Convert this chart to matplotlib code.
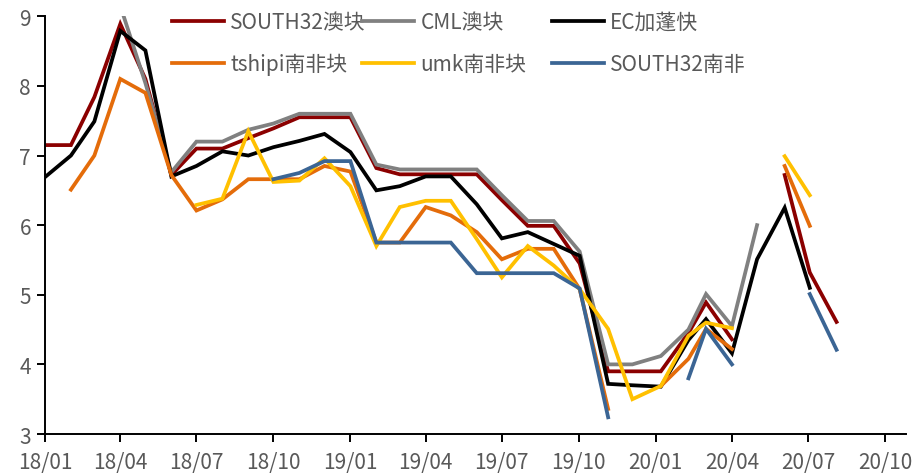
import numpy as np
import pandas as pd
import matplotlib
matplotlib.use('Agg')
import matplotlib.pyplot as plt
import matplotlib.dates as mdates

plt.rcParams['font.family'] = ['Noto Sans CJK SC', 'DejaVu Sans']
plt.rcParams['axes.unicode_minus'] = False

nan = np.nan

# ---- data ----
dates = pd.to_datetime([
    '2018-01-01', '2018-02-01', '2018-03-01', '2018-04-01', '2018-05-01', '2018-06-01',
    '2018-07-01', '2018-08-01', '2018-09-01', '2018-10-01', '2018-11-01', '2018-12-01',
    '2019-01-01', '2019-02-01', '2019-03-01', '2019-04-01', '2019-05-01', '2019-06-01',
    '2019-07-01', '2019-08-01', '2019-09-01', '2019-10-02', '2019-11-05', '2019-12-04',
    '2020-01-07', '2020-02-09', '2020-03-01', '2020-04-01', '2020-05-01', '2020-06-03',
    '2020-07-03', '2020-08-04',
])

south32_au = [7.15, 7.15, 7.84, 8.89, 8.1, 6.72, 7.1, 7.1, 7.25, 7.39, 7.55, 7.55,
              7.55, 6.82, 6.73, 6.73, 6.73, 6.73, 6.36, 5.99, 5.99, 5.45, 3.9, 3.9,
              3.9, 4.45, 4.89, 4.36, nan, 6.72, 5.32, 4.61]
cml_au = [nan, nan, nan, 9.15, 8.04, 6.76, 7.2, 7.2, 7.37, 7.46, 7.6, 7.6,
          7.6, 6.87, 6.8, 6.8, 6.8, 6.8, 6.43, 6.06, 6.06, 5.62, 4.0, 4.0,
          4.12, 4.5, 5.01, 4.55, 6.0, nan, nan, nan]
ec_gabon = [6.69, 7.0, 7.49, 8.79, 8.51, 6.7, 6.85, 7.06, 7.0, 7.12, 7.21, 7.31,
            7.05, 6.5, 6.56, 6.7, 6.7, 6.3, 5.81, 5.9, 5.73, 5.56, 3.72, 3.7,
            3.68, 4.35, 4.65, 4.16, 5.51, 6.25, 5.1, nan]
tshipi_sa = [nan, 6.51, 7.0, 8.1, 7.9, 6.72, 6.21, 6.37, 6.66, 6.66, 6.66, 6.85,
             6.77, 5.75, 5.75, 6.26, 6.14, 5.9, 5.51, 5.66, 5.66, 5.08, 3.36, nan,
             3.69, 4.08, 4.51, 4.22, nan, 6.85, 5.99, nan]
umk_sa = [nan, nan, nan, nan, nan, nan, 6.29, 6.38, 7.35, 6.62, 6.64, 6.96,
          6.56, 5.7, 6.26, 6.35, 6.35, 5.8, 5.25, 5.7, 5.42, 5.08, 4.51, 3.5,
          3.69, 4.41, 4.6, 4.52, nan, 6.99, 6.43, nan]
south32_sa = [nan, nan, nan, nan, nan, nan, nan, nan, nan, 6.66, 6.75, 6.92,
              6.92, 5.75, 5.75, 5.75, 5.75, 5.31, 5.31, 5.31, 5.31, 5.09, 3.24, nan,
              nan, 3.8, 4.51, 4.0, nan, nan, 5.01, 4.21]

labels = ['SOUTH32澳块', 'CML澳块', 'EC加蓬快', 'tshipi南非块', 'umk南非块', 'SOUTH32南非']
colors = ['#8B0000', '#808080', '#000000', '#E46C0A', '#FFC000', '#3B6594']
series = [south32_au, cml_au, ec_gabon, tshipi_sa, umk_sa, south32_sa]

# ---- figure ----
fig = plt.figure(figsize=(9.17, 4.77), dpi=100)
ax = fig.add_axes([45 / 917, 1 - 435 / 477, (906 - 45) / 917, (435 - 17.3) / 477])

handles = []
for i, (ys, lab, c) in enumerate(zip(series, labels, colors)):
    ln, = ax.plot(dates, ys, color=c, linewidth=2.7, label=lab, zorder=2 + i,
                  solid_joinstyle='miter')
    handles.append(ln)

ax.set_ylim(3, 9)
ax.set_yticks(range(3, 10))
ax.set_xlim(pd.Timestamp('2018-01-01'), pd.Timestamp('2020-10-26'))
ax.xaxis.set_major_locator(mdates.MonthLocator(bymonth=[1, 4, 7, 10]))
ax.xaxis.set_major_formatter(mdates.DateFormatter('%y/%m'))

for s in ['top', 'right']:
    ax.spines[s].set_visible(False)
for s in ['left', 'bottom']:
    ax.spines[s].set_linewidth(1.4)
ax.tick_params(axis='both', direction='out', length=6, width=1.4,
               labelsize=15, labelcolor='#595959')
ax.tick_params(axis='x', pad=6)
ax.tick_params(axis='y', pad=4)

# legend: three columns of two, like the original
col_x = [172, 362, 552]
for k in range(3):
    leg = fig.legend([handles[k], handles[k + 3]], [labels[k], labels[k + 3]],
                     loc='upper left', bbox_to_anchor=(col_x[k] / 917, 1 - 12 / 477),
                     frameon=False, fontsize=15, handlelength=2.5,
                     handletextpad=0.3, labelspacing=0.95, borderpad=0,
                     borderaxespad=0)
    for t in leg.get_texts():
        t.set_color('#595959')

fig.savefig('out.png', dpi=100)
